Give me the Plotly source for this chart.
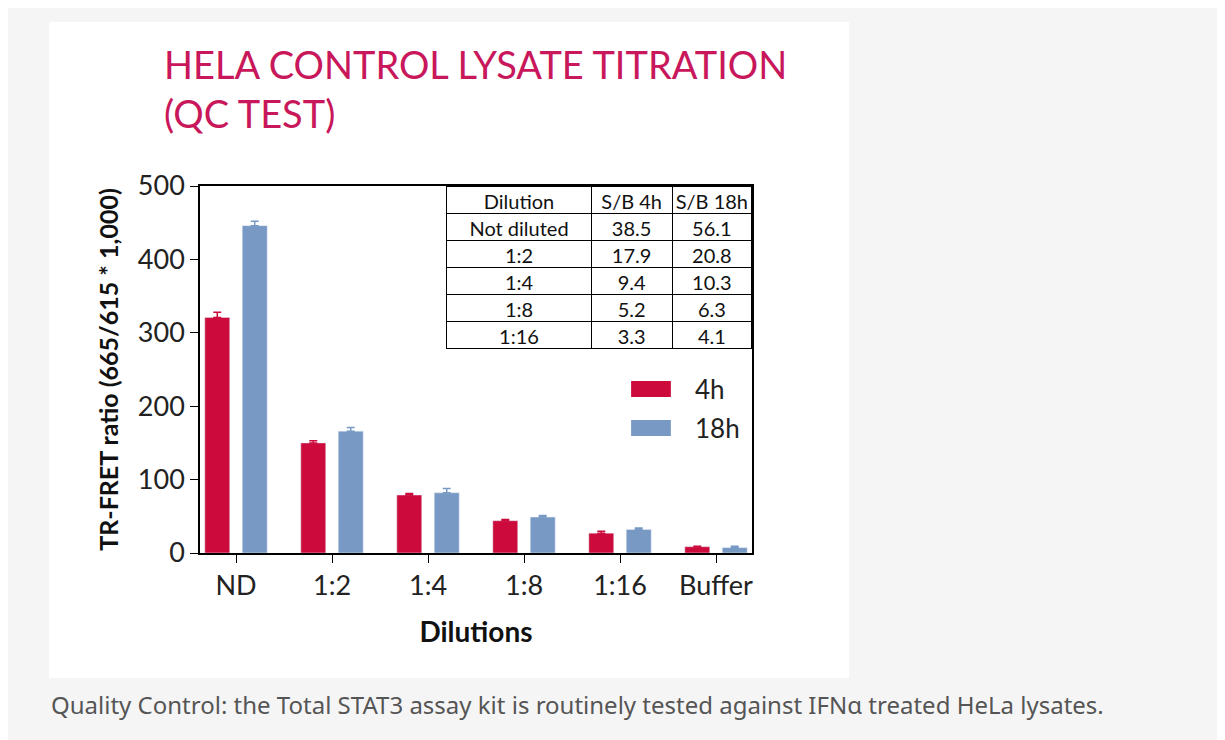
import plotly.graph_objects as go

dilutions = ["ND", "1:2", "1:4", "1:8", "1:16", "Buffer"]
vals_4h = [321, 150, 79, 44, 27, 8.6]
err_4h = [7, 3, 2, 1.5, 2.5, 0.6]
vals_18h = [446, 166, 82, 49, 32, 7.3]
err_18h = [6, 5, 6, 2, 2, 2]

tbl_dilution = ["Not diluted", "1:2", "1:4", "1:8", "1:16"]
tbl_sb4 = ["38.5", "17.9", "9.4", "5.2", "3.3"]
tbl_sb18 = ["56.1", "20.8", "10.3", "6.3", "4.1"]

red = "#cc0a3c"
blue = "#7799c4"
font_main = "Lato"

fig = go.Figure()
fig.add_trace(go.Bar(
    x=dilutions, y=vals_4h, name="4h", marker_color=red, width=0.26, offset=-0.325,
    error_y=dict(type="data", array=err_4h, arrayminus=[0] * 6, symmetric=False,
                 color=red, thickness=1.5, width=4)))
fig.add_trace(go.Bar(
    x=dilutions, y=vals_18h, name="18h", marker_color=blue, width=0.26, offset=0.065,
    error_y=dict(type="data", array=err_18h, arrayminus=[0] * 6, symmetric=False,
                 color=blue, thickness=1.5, width=4)))

fig.add_trace(go.Table(
    domain=dict(x=[0.447, 1.0], y=[0.54, 1.0]),
    columnwidth=[145, 81, 80],
    header=dict(values=["Dilution", "S/B\u00a04h", "S/B\u00a018h"], height=27,
                fill_color="white", line_color="black", align="center",
                font=dict(family=font_main, size=20, color="#111")),
    cells=dict(values=[tbl_dilution, tbl_sb4, tbl_sb18], height=27,
               fill_color="white", line_color="black", align="center",
               font=dict(family=font_main, size=20, color="#111")),
))

# white panel behind chart
fig.add_shape(type="rect", xref="paper", yref="paper", x0=-0.2736, x1=1.1757,
              y0=-0.3406, y1=1.4469, fillcolor="white", line_width=0, layer="below")

# legend swatches
for name, color, y0, y1, ty in [("4h", red, 0.425, 0.4687, 0.447), ("18h", blue, 0.3188, 0.3624, 0.3406)]:
    fig.add_shape(type="rect", xref="paper", yref="paper", x0=0.781, x1=0.853, y0=y0, y1=y1,
                  fillcolor=color, line_width=0)
    fig.add_annotation(text=name, xref="paper", yref="paper", x=0.893, y=ty, xanchor="left",
                       yanchor="middle", showarrow=False,
                       font=dict(family=font_main, size=26, color="#222"))

fig.add_annotation(text="HELA CONTROL LYSATE TITRATION<br>(QC TEST)", xref="paper", yref="paper",
                   x=-0.069, y=1.40, xanchor="left", yanchor="top", align="left", showarrow=False,
                   font=dict(family=font_main, size=38, color="#c8175a"))
fig.add_annotation(text="Quality Control: the Total STAT3 assay kit is routinely tested against IFNα treated HeLa lysates.",
                   xref="paper", yref="paper", x=-0.2736, y=-0.414, xanchor="left", yanchor="middle",
                   showarrow=False, font=dict(family="Noto Sans", size=24, color="#555"))

fig.update_layout(
    width=1225, height=740,
    margin=dict(l=192, r=481, t=178, b=195),
    paper_bgcolor="#f5f5f5", plot_bgcolor="white",
    showlegend=False,
    xaxis=dict(range=[-0.375, 5.375], showline=True, linecolor="black", linewidth=1.5, mirror=True,
               ticks="outside", ticklen=8, tickcolor="black", showgrid=False,
               tickfont=dict(family=font_main, size=27, color="#222"),
               title=dict(text="<b>Dilutions</b>", font=dict(family=font_main, size=28, color="#111"), standoff=22)),
    yaxis=dict(range=[0, 500], dtick=100, showline=True, linecolor="black", linewidth=1.5, mirror=True,
               ticks="outside", ticklen=8, tickcolor="black", showgrid=False, zeroline=False,
               tickfont=dict(family=font_main, size=27, color="#222"),
               title=dict(text="<b>TR-FRET ratio (665/615 * 1,000)</b>",
                          font=dict(family=font_main, size=25, color="#111"), standoff=12)),
)

fig.write_html("out.html")
